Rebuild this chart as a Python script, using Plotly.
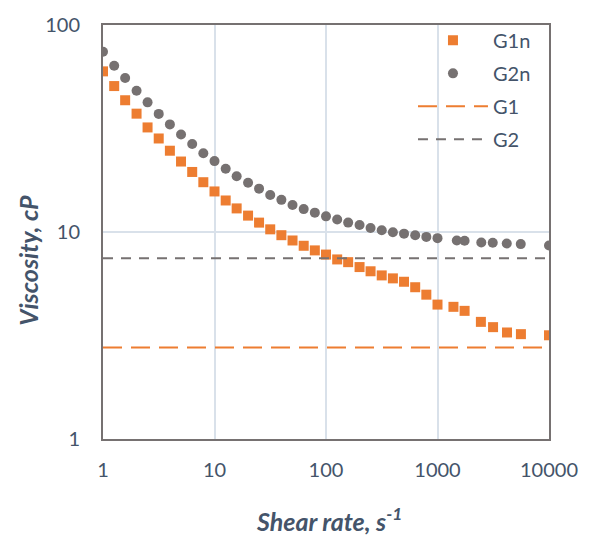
import plotly.graph_objects as go

# ---- data ----
g1n_x = [1, 1.26, 1.58, 2, 2.51, 3.16, 3.98, 5.01, 6.31, 7.94,
         10, 12.6, 15.8, 20, 25.1, 31.6, 39.8, 50.1, 63.1, 79.4,
         100, 126, 158, 200, 251, 316, 398, 501, 631, 794,
         1000, 1390, 1750, 2450, 3150, 4200, 5600, 10000]
g1n_y = [59.7, 50.7, 43.3, 37.3, 32.0, 28.3, 24.7, 21.9, 19.5, 17.4,
         15.7, 14.2, 13.0, 12.0, 11.1, 10.3, 9.65, 9.10, 8.58, 8.15,
         7.78, 7.37, 7.15, 6.77, 6.46, 6.17, 5.97, 5.75, 5.41, 4.98,
         4.46, 4.35, 4.16, 3.68, 3.47, 3.27, 3.21, 3.17]

g2n_x = [1, 1.26, 1.58, 2, 2.51, 3.16, 3.98, 5.01, 6.31, 7.94,
         10, 12.6, 15.8, 20, 25.1, 31.6, 39.8, 50.1, 63.1, 79.4,
         100, 126, 158, 200, 251, 316, 398, 501, 631, 794,
         1000, 1490, 1750, 2470, 3130, 4180, 5580, 10000]
g2n_y = [74.2, 63.5, 55.5, 48.1, 42.3, 37.2, 33.1, 29.6, 26.6, 24.0,
         22.0, 20.2, 18.6, 17.3, 16.2, 15.1, 14.3, 13.5, 12.9, 12.4,
         11.9, 11.5, 11.1, 10.8, 10.45, 10.2, 9.97, 9.82, 9.65, 9.47,
         9.34, 9.10, 9.07, 8.90, 8.87, 8.80, 8.74, 8.61]

line_x = [1, 10000]
g1_y = [2.77, 2.77]
g2_y = [7.47, 7.47]

x_tickvals = [1, 10, 100, 1000, 10000]
x_ticktext = ["1", "10", "100", "1000", "10000"]
y_tickvals = [1, 10, 100]
y_ticktext = ["1", "10", "100"]

ORANGE = "#ED7D31"
GRAY = "#767171"
TXT = "#44546A"
FONT = "Lato"

fig = go.Figure()
fig.add_trace(go.Scatter(x=g1n_x, y=g1n_y, mode="markers", name="G1n", legendgroup="a",
                         marker=dict(symbol="square", size=10, color=ORANGE)))
fig.add_trace(go.Scatter(x=g2n_x, y=g2n_y, mode="markers", name="G2n", legendgroup="b",
                         marker=dict(symbol="circle", size=10, color=GRAY)))
fig.add_trace(go.Scatter(x=line_x, y=g1_y, mode="lines", name="G1", legendgroup="c",
                         line=dict(color=ORANGE, width=2, dash="19px,9px")))
fig.add_trace(go.Scatter(x=line_x, y=g2_y, mode="lines", name="G2", legendgroup="d",
                         line=dict(color=GRAY, width=2, dash="10px,8px")))

fig.update_layout(
    width=590, height=538,
    margin=dict(l=103, r=41, t=17, b=99),
    paper_bgcolor="white", plot_bgcolor="white",
    font=dict(family=FONT, size=20, color=TXT),
    showlegend=True,
    legend=dict(x=0.695, y=1.01, xanchor="left", yanchor="top",
                bgcolor="rgba(0,0,0,0)", font=dict(size=20, color=TXT),
                itemwidth=70, tracegroupgap=4),
    xaxis=dict(type="log", range=[0, 4], tickvals=x_tickvals, ticktext=x_ticktext,
               showgrid=True, gridcolor="#D9E1EA", gridwidth=1.5,
               showline=True, linecolor=GRAY, linewidth=2, mirror=True,
               ticks="", zeroline=False, ticklabelstandoff=12,
               tickfont=dict(size=20, color=TXT)),
    yaxis=dict(type="log", range=[0, 2], tickvals=y_tickvals, ticktext=y_ticktext,
               showgrid=True, gridcolor="#D9E1EA", gridwidth=1.5,
               showline=True, linecolor=GRAY, linewidth=2, mirror=True,
               ticks="", zeroline=False, ticklabelstandoff=17,
               tickfont=dict(size=20, color=TXT)),
    annotations=[
        dict(text="<b><i>Shear rate, s<sup>-1</sup></i></b>", xref="paper", yref="paper",
             x=0.507, y=-0.194, xanchor="center", yanchor="middle", showarrow=False,
             font=dict(size=25, color=TXT, family=FONT)),
        dict(text="<b><i>Viscosity, cP</i></b>", xref="paper", yref="paper",
             x=-0.170, y=0.431, xanchor="center", yanchor="middle", showarrow=False,
             textangle=-90, font=dict(size=25, color=TXT, family=FONT)),
    ],
)

fig.write_html("out.html")
